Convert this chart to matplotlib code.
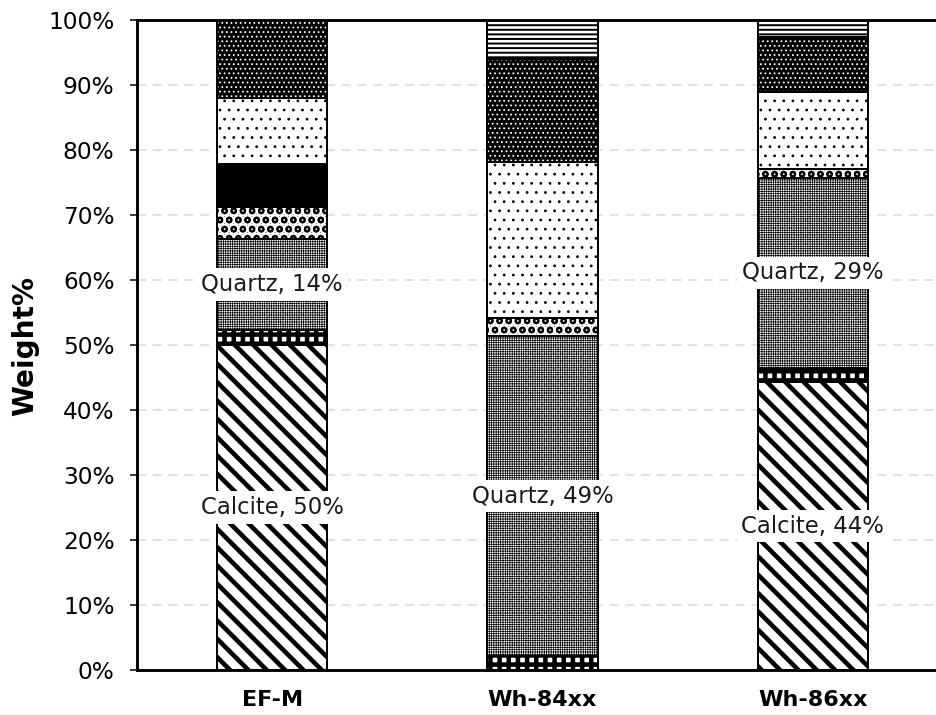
import numpy as np
import matplotlib
matplotlib.use('Agg')
import matplotlib.pyplot as plt
from matplotlib.ticker import PercentFormatter

# weight% of each mineral per sample, stacked bottom to top
samples = ['EF-M', 'Wh-84xx', 'Wh-86xx']

calcite = [50.0, 0.0, 44.3]
dolomite = [2.3, 2.1, 2.2]
quartz = [14.0, 49.3, 29.2]
feldspar = [4.9, 2.8, 1.4]
pyrite = [6.6, 0.0, 0.0]
clay = [10.2, 24.0, 11.8]
mica = [12.0, 15.8, 8.5]
other = [0.0, 6.0, 2.6]

yticks = [0, 10, 20, 30, 40, 50, 60, 70, 80, 90, 100]

# hatch cell size follows the dpi, so a low dpi keeps the patterns fine
DPI = 55


def pt(px):
    # sizes below are thought of in output pixels
    return px * 72 / DPI


# (name, values, face colour, hatch colour, hatch, hatch linewidth in px)
layers = [
    ('Calcite', calcite, 'white', 'black', '\\', 4.6),
    ('Dolomite', dolomite, 'white', 'black', '+', 4.5),
    ('Quartz', quartz, 'white', 'black', '++++', 0.7),
    ('Feldspar', feldspar, 'black', 'white', '.', 9.0),
    ('Pyrite', pyrite, 'black', 'black', '', 1.0),
    ('Clay', clay, 'white', 'black', '.', 0.9),
    ('Mica', mica, 'black', 'white', '..', 1.0),
    ('Other', other, 'white', 'black', '--', 2.0),
]
labelled = ['Calcite', 'Quartz']

fig = plt.figure(figsize=(937 / DPI, 715 / DPI), dpi=DPI)
ax = fig.add_axes([137 / 937, 45 / 715, 811 / 937, 650 / 715])

x = np.arange(len(samples))
width = 0.407
bottom = np.zeros(len(samples))

for name, values, face, hcolor, hatch, hlw in layers:
    values = np.array(values)
    with plt.rc_context({'hatch.linewidth': pt(hlw)}):
        fills = ax.bar(x, values, width, bottom=bottom, color=face,
                       edgecolor=hcolor, linewidth=0, hatch=hatch, zorder=2)
    for p in fills:
        if hasattr(p, 'set_hatch_linewidth'):
            p.set_hatch_linewidth(pt(hlw))
    ax.bar(x, values, width, bottom=bottom, fill=False,
           edgecolor='black', linewidth=pt(2.0), zorder=3)
    if name in labelled:
        for xi, b, v in zip(x, bottom, values):
            if v > 0:
                ax.text(xi, b + v / 2, f'{name}, {v:.0f}%', ha='center', va='center',
                        fontsize=pt(22.8), color='#1a1a1a', zorder=5,
                        bbox=dict(boxstyle='square,pad=0.2', fc='white', ec='none'))
    bottom += values

ax.set_xlim(-0.5, 2.5)
ax.set_ylim(0, 100)
ax.set_yticks(yticks)
ax.yaxis.set_major_formatter(PercentFormatter(decimals=0))
ax.set_xticks(x)
ax.set_xticklabels(samples, fontsize=pt(22.2), fontweight='bold')

ax.tick_params(axis='y', labelsize=pt(23.3), length=pt(7), width=pt(1.5),
               pad=pt(15.5), direction='out')
ax.tick_params(axis='x', length=0, pad=pt(19.5))

ax.yaxis.grid(True, color='#d9d9d9', linewidth=pt(1.5), linestyle=(0, (6, 4.5)))
ax.set_axisbelow(True)

for side in ['left', 'bottom', 'top']:
    ax.spines[side].set_linewidth(pt(2.9))
ax.spines['right'].set_visible(False)

fig.text(25 / 937, 1 - 346 / 715, 'Weight%', rotation=90, ha='center', va='center',
         fontsize=pt(28), fontweight='bold')

fig.savefig('out.png', dpi=DPI)
